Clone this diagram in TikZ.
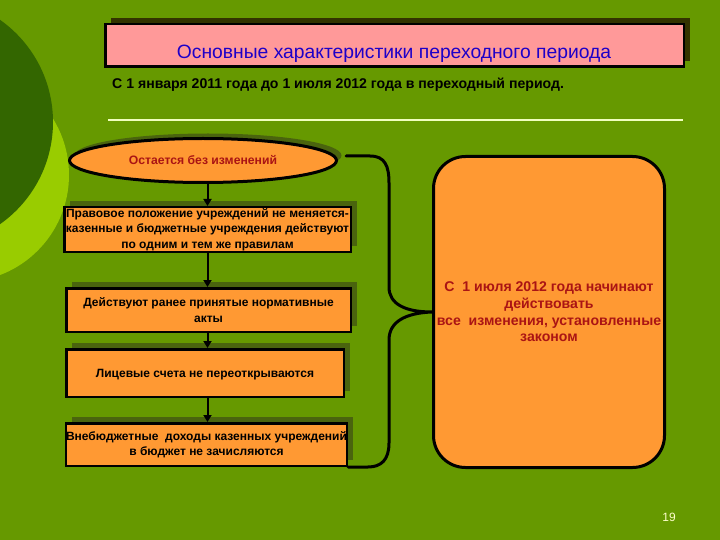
\documentclass[tikz,border=0pt]{standalone}
\usepackage{fontspec}
\setmainfont{Liberation Sans}
\usetikzlibrary{shapes.geometric,arrows.meta,shadows}
\definecolor{bg}{RGB}{102,153,0}
\definecolor{dkg}{RGB}{51,102,0}
\definecolor{ltg}{RGB}{153,204,0}
\definecolor{org}{RGB}{255,153,51}
\definecolor{pnk}{RGB}{255,153,153}
\definecolor{shd}{RGB}{74,100,14}
\definecolor{tshd}{RGB}{51,51,0}
\definecolor{ttl}{RGB}{30,0,200}
\definecolor{dred}{RGB}{170,20,20}
\definecolor{cream}{RGB}{255,255,204}
\definecolor{wline}{RGB}{240,255,190}
\begin{document}
\begin{tikzpicture}[x=1pt,y=-1pt,
  stepbox/.style={draw=black,line width=2.5pt,fill=org,rectangle,inner sep=0pt,align=center,
    font=\fontsize{12}{15.5}\selectfont\bfseries,
    drop shadow={shadow xshift=6pt,shadow yshift=6pt,opacity=1,fill=shd}},
  arr/.style={line width=2pt,-{Triangle[length=7pt,width=8pt]}},
  brace/.style={line width=3pt,line cap=round}]
\useasboundingbox (0,0) rectangle (720,540);
\clip (0,0) rectangle (720,540);
\fill[bg] (0,0) rectangle (720,540);
\fill[ltg] (-38,175) circle (107pt);
\fill[dkg] (-72,122) circle (125pt);
% title
\node[draw=black,line width=2.5pt,fill=pnk,minimum width=578.5pt,minimum height=42.5pt,inner sep=0pt,
  drop shadow={shadow xshift=6pt,shadow yshift=6pt,opacity=1,fill=tshd}] (tbox) at (394.5,45.5) {};
\node[text=ttl,font=\fontsize{19.3}{22}\selectfont,inner sep=0pt] (ttext) at (394,53.5) {Основные характеристики переходного периода};
\node[anchor=west,inner sep=0pt,font=\fontsize{14.1}{16}\selectfont\bfseries] (sub) at (112,85) {С 1 января 2011 года до 1 июля 2012 года в переходный период.};
\draw[wline,line width=1.2pt] (108,120) -- (683,120);
% ellipse
\node[ellipse,draw=black,line width=3pt,fill=org,minimum width=267pt,minimum height=44pt,inner sep=0pt,
  text=dred,font=\fontsize{12.2}{14}\selectfont\bfseries,
  drop shadow={shadow xshift=5pt,shadow yshift=5pt,opacity=1,fill=shd}] (ell) at (203,160.5) {Остается без изменений};
% boxes
\node[stepbox,minimum width=286.5pt,minimum height=44.5pt] (b1) at (207.5,229.5)
  {Правовое положение учреждений не меняется-\\казенные и бюджетные учреждения действуют\\по одним и тем же правилам};
\node[stepbox,minimum width=284.5pt,minimum height=43.5pt] (b2) at (208.5,310)
  {Действуют ранее принятые нормативные\\акты};
\node[stepbox,minimum width=277.5pt,minimum height=47.5pt,text height=12pt,text depth=2.5pt] (b3) at (205,373)
  {Лицевые счета не переоткрываются};
\node[stepbox,minimum width=280.5pt,minimum height=42.5pt] (b4) at (206.5,444.5)
  {Внебюджетные~ доходы казенных учреждений\\в бюджет не зачисляются};
% right box
\node[draw=black,line width=3pt,fill=org,rounded corners=32pt,minimum width=231pt,minimum height=311pt,
  inner sep=0pt,align=center,text=dred,font=\fontsize{14.1}{16.7}\selectfont\bfseries] (rb) at (549,312)
  {\raisebox{0pt}[0pt][0pt]{}С~ 1 июля 2012 года начинают\\действовать\\все~ изменения, установленные\\законом};
% arrows
\draw[arr] (b1.north |- ell.south) -- (b1.north);
\draw[arr] (b1.south) -- (b1.south |- b2.north);
\draw[arr] (b2.south -| b1.south) -- (b1.south |- b3.north);
\draw[arr] (b3.south -| b1.south) -- (b1.south |- b4.north);
% brace
\coordinate (br1) at (346,156);
\draw[brace] (br1) -- (370,156) .. controls (385,156) and (389,166) .. (389,183) -- (389,287)
  .. controls (389,304) and (405,312) .. (rb.west)
  .. controls (405,313) and (389,322) .. (389,340) -- (389,443)
  .. controls (389,460) and (381,467) .. (368,467) -- (b4.south east);
\node[text=cream,font=\fontsize{12}{14}\selectfont,inner sep=0pt] (pg) at (669,517) {19};
\end{tikzpicture}
\end{document}
